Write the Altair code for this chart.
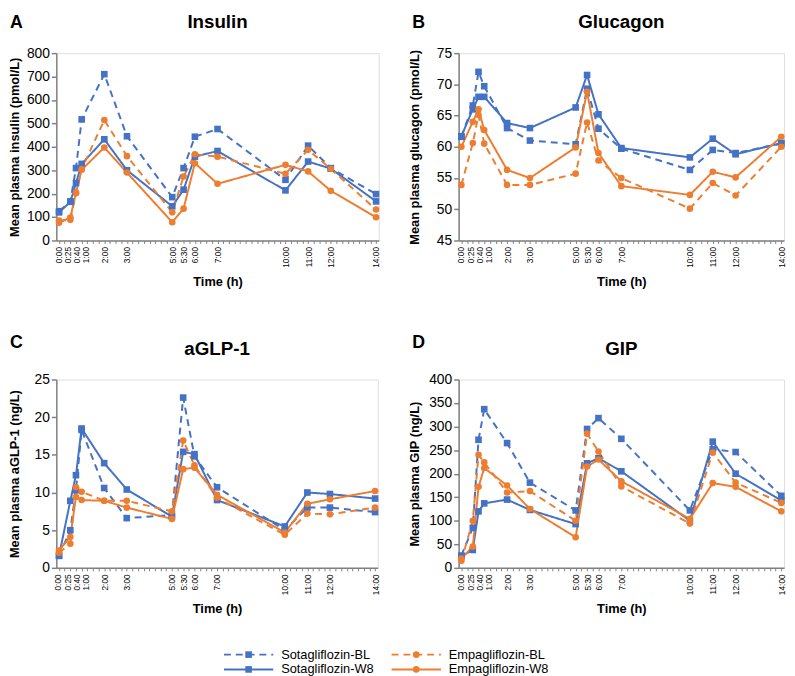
import altair as alt
import pandas as pd

# ---------------- data ----------------
time_h = [0, 0.5, 0.75, 1, 2, 3, 5, 5.5, 6, 7, 10, 11, 12, 14]
time_labels = ["0:00", "0:25", "0:40", "1:00", "2:00", "3:00", "5:00", "5:30",
               "6:00", "7:00", "10:00", "11:00", "12:00", "14:00"]

series = ["Sotagliflozin-BL", "Sotagliflozin-W8", "Empagliflozin-BL", "Empagliflozin-W8"]
series_colors = ["#4472C4", "#4472C4", "#ED7D31", "#ED7D31"]
series_dash = [[7, 5], [1, 0], [7, 5], [1, 0]]
series_shape = ["square", "square", "circle", "circle"]

insulin_sota_bl = [125, 167, 309, 517, 710, 445, 185, 309, 443, 476, 259, 405, 309, 198]
insulin_sota_w8 = [120, 165, 245, 327, 432, 300, 146, 217, 358, 382, 214, 337, 307, 167]
insulin_empa_bl = [85, 88, 202, 305, 514, 360, 120, 273, 368, 358, 285, 387, 306, 132]
insulin_empa_w8 = [76, 98, 205, 302, 397, 290, 78, 136, 330, 242, 323, 295, 212, 99]

glucagon_sota_bl = [61.6, 66.6, 72.0, 69.7, 63.0, 61.0, 60.4, 69.3, 62.9, 59.7, 56.3, 59.5, 59.0, 60.5]
glucagon_sota_w8 = [61.7, 66.0, 68.0, 68.0, 63.8, 63.0, 66.3, 71.5, 65.2, 59.8, 58.3, 61.3, 58.8, 60.6]
glucagon_empa_bl = [53.9, 60.6, 65.1, 60.5, 53.9, 53.9, 55.7, 63.9, 57.8, 55.0, 50.1, 54.2, 52.2, 60.0]
glucagon_empa_w8 = [60.0, 64.0, 66.0, 62.7, 56.3, 55.0, 59.9, 68.8, 59.0, 53.7, 52.3, 56.0, 55.1, 61.6]

glp1_sota_bl = [1.6, 5.0, 10.3, 18.3, 10.6, 6.6, 7.0, 22.6, 14.8, 10.7, 5.0, 8.0, 8.0, 7.4]
glp1_sota_w8 = [1.6, 8.9, 12.3, 18.5, 13.9, 10.4, 6.8, 15.4, 15.1, 9.0, 5.5, 10.0, 9.8, 9.2]
glp1_empa_bl = [2.0, 3.2, 10.7, 10.1, 8.9, 8.9, 7.5, 16.9, 13.6, 9.3, 4.4, 7.2, 7.1, 8.0]
glp1_empa_w8 = [2.3, 4.1, 9.4, 9.0, 8.9, 8.0, 6.5, 13.1, 13.3, 9.7, 4.7, 8.5, 9.1, 10.2]

gip_sota_bl = [26, 85, 272, 337, 265, 181, 122, 295, 318, 274, 122, 252, 246, 153]
gip_sota_w8 = [25, 38, 120, 137, 145, 123, 93, 222, 233, 205, 100, 268, 200, 143]
gip_empa_bl = [15, 100, 240, 224, 160, 163, 100, 285, 247, 173, 94, 245, 181, 138]
gip_empa_w8 = [20, 45, 172, 212, 175, 125, 65, 215, 230, 184, 104, 180, 172, 120]

insulin_ticks = [0, 100, 200, 300, 400, 500, 600, 700, 800]
glucagon_ticks = [45, 50, 55, 60, 65, 70, 75]
glp1_ticks = [0, 5, 10, 15, 20, 25]
gip_ticks = [0, 50, 100, 150, 200, 250, 300, 350, 400]

legend_col = [0, 0, 1, 1]
legend_row = [0, 1, 0, 1]

FONT = "Liberation Sans"
AXIS_GREY = "#808080"

minor_ticks = [i * 0.25 for i in range(57)]
label_expr = "".join(f"datum.value == {v} ? '{l}' : " for v, l in zip(time_h, time_labels)) + "''"
label_offset = {"condition": [{"test": "datum.value == 0", "value": -1},
                              {"test": "datum.value == 0.5", "value": -2.5},
                              {"test": "datum.value == 0.75", "value": 1},
                              {"test": "datum.value == 1", "value": 4}],
                "value": 0}

color_enc = alt.Color("series:N", scale=alt.Scale(domain=series, range=series_colors), legend=None)
dash_enc = alt.StrokeDash("series:N", scale=alt.Scale(domain=series, range=series_dash), legend=None)
shape_enc = alt.Shape("series:N", scale=alt.Scale(domain=series, range=series_shape), legend=None)


def make_panel(letter, title, ytitle, yticks, values, width, height,
               letter_dx, head_dy, title_dy, ytitle_x):
    rows = []
    for s, vals in zip(series, values):
        for t, v in zip(time_h, vals):
            rows.append({"time": t, "value": v, "series": s})
    df = pd.DataFrame(rows)

    x = alt.X("time:Q",
              scale=alt.Scale(domain=[-0.12, 14.12], nice=False, zero=False),
              axis=alt.Axis(values=minor_ticks, labelExpr=label_expr, labelAngle=270,
                            labelAlign="right", labelBaseline="middle", labelFontSize=8.5,
                            labelPadding=3, labelOverlap=False, labelFlush=False,
                            labelOffset=label_offset,
                            labelColor="#000", labelFont=FONT,
                            tickSize=3, tickColor=AXIS_GREY, tickWidth=1,
                            domainColor=AXIS_GREY, domainWidth=1.5, grid=False,
                            title="Time (h)", titleFontSize=13, titleFontWeight="bold",
                            titleFont=FONT, titleColor="#000", titlePadding=8))
    y = alt.Y("value:Q",
              scale=alt.Scale(domain=[yticks[0], yticks[-1]], nice=False, zero=False),
              axis=alt.Axis(values=yticks, grid=False, domainColor=AXIS_GREY, domainWidth=1.5,
                            tickColor=AXIS_GREY, tickSize=5, tickWidth=1.5,
                            labelFontSize=14, labelPadding=2, labelColor="#000",
                            labelFont=FONT, labelFlush=False,
                            title=ytitle, titleFontSize=13, titleFontWeight="bold",
                            titleFont=FONT, titleColor="#000", titleX=ytitle_x))

    base = alt.Chart(df)
    lines = base.mark_line(strokeWidth=2).encode(x=x, y=y, color=color_enc, strokeDash=dash_enc)
    points = base.mark_point(filled=True, size=45, opacity=1).encode(
        x=x, y=y, color=color_enc, shape=shape_enc)

    letter_layer = alt.Chart(pd.DataFrame({"t": [letter]})).mark_text(
        align="left", baseline="alphabetic", fontSize=18, fontWeight="bold",
        font=FONT, color="#000").encode(text="t:N", x=alt.value(letter_dx), y=alt.value(head_dy))
    title_layer = alt.Chart(pd.DataFrame({"t": [title]})).mark_text(
        align="center", baseline="alphabetic", fontSize=19, fontWeight="bold",
        font=FONT, color="#000").encode(text="t:N", x=alt.value(width / 2), y=alt.value(title_dy))

    return alt.layer(lines, points, letter_layer, title_layer).properties(width=width, height=height)


W_A, W_B, W_C, W_D = 327, 330, 326, 330
H_TOP, H_BOT = 190, 191

panel_a = make_panel("A", "Insulin", "Mean plasma insulin (pmol/L)", insulin_ticks,
                     [insulin_sota_bl, insulin_sota_w8, insulin_empa_bl, insulin_empa_w8],
                     W_A, H_TOP, -47, -25, -25, -35)
panel_b = make_panel("B", "Glucagon", "Mean plasma glucagon (pmol/L)", glucagon_ticks,
                     [glucagon_sota_bl, glucagon_sota_w8, glucagon_empa_bl, glucagon_empa_w8],
                     W_B, H_TOP, -47, -25, -25, -38)
panel_c = make_panel("C", "aGLP-1", "Mean plasma aGLP-1 (ng/L)", glp1_ticks,
                     [glp1_sota_bl, glp1_sota_w8, glp1_empa_bl, glp1_empa_w8],
                     W_C, H_BOT, -47, -32, -25, -35)
panel_d = make_panel("D", "GIP", "Mean plasma GIP (ng/L)", gip_ticks,
                     [gip_sota_bl, gip_sota_w8, gip_empa_bl, gip_empa_w8],
                     W_D, H_BOT, -47, -32, -25, -38)

# ---------------- legend (drawn below panel C, on its own scales) ----------------
leg_col0_px, leg_col_gap_px = 195, 170      # pixel layout of the legend columns
leg_row0_px, leg_row_gap_px = 279, 15       # pixel layout of the legend rows
lx_d0 = -leg_col0_px / leg_col_gap_px
lx_d1 = lx_d0 + W_C / leg_col_gap_px
ly_d0 = -leg_row0_px / leg_row_gap_px
ly_d1 = ly_d0 + H_BOT / leg_row_gap_px

legend_df = pd.DataFrame({"series": series, "col": legend_col, "row": legend_row})
lx = alt.X("col:Q", scale=alt.Scale(domain=[lx_d0, lx_d1], nice=False, zero=False), axis=None)
ly = alt.Y("row:Q", scale=alt.Scale(domain=[ly_d0, ly_d1], reverse=True, nice=False, zero=False),
           axis=None)
lbase = alt.Chart(legend_df)
seg = lbase.mark_point(shape="M-1,0L1,0", filled=False, size=2500, strokeWidth=2, opacity=1).encode(
    x=lx, y=ly, color=color_enc, strokeDash=dash_enc)
mk = lbase.mark_point(filled=True, size=45, opacity=1).encode(x=lx, y=ly, color=color_enc, shape=shape_enc)
txt = lbase.mark_text(align="left", baseline="middle", dx=33, fontSize=13, font=FONT, color="#000").encode(
    x=lx, y=ly, text="series:N")
legend = alt.layer(seg, mk, txt)

panel_c_full = alt.layer(panel_c, legend).resolve_scale(x="independent", y="independent")

chart = alt.concat(panel_a, panel_b, panel_c_full, panel_d, columns=2,
                   spacing={"row": 141, "column": 81}, bounds="flush").properties(
    padding=0, background="white"
).configure_view(stroke=None).configure(font=FONT)

chart.save("out.html", embed_options={"renderer": "svg", "actions": False})
